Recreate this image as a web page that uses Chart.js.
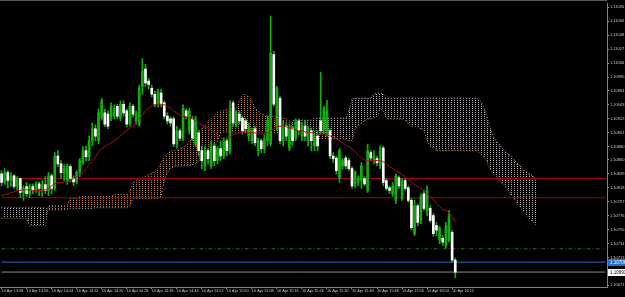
<!DOCTYPE html>
<html>
<head>
<meta charset="utf-8">
<script src="https://cdn.jsdelivr.net/npm/chart.js@4.4.1/dist/chart.umd.min.js"></script>
<style>
  html, body { margin: 0; padding: 0; background: #000; }
  #wrap { width: 625px; height: 297px; position: relative; }
</style>
</head>
<body>
<div id="wrap"><canvas id="grafico"></canvas></div>
<script>
// EURUSD M1, 10 Apr - candele, media mobile e nuvola Ichimoku
const dayLabel = '10 Apr';
const startMinute = 13 * 60 + 48;   // primo bar 13:48
const barCount = 194;               // bar visibili sull'asse (incluso lo spazio a destra)

const tickLabels = ['10 Apr 13:48', '10 Apr 13:56', '10 Apr 14:04', '10 Apr 14:12', '10 Apr 14:20',
  '10 Apr 14:28', '10 Apr 14:36', '10 Apr 14:44', '10 Apr 14:52', '10 Apr 15:00', '10 Apr 15:08',
  '10 Apr 15:16', '10 Apr 15:24', '10 Apr 15:32', '10 Apr 15:40', '10 Apr 15:48', '10 Apr 15:56',
  '10 Apr 16:04', '10 Apr 16:12'];

const priceTicks = [1.11090, 1.11069, 1.11048, 1.11027, 1.11006, 1.10985, 1.10964, 1.10943, 1.10922,
  1.10901, 1.10880, 1.10860, 1.10839, 1.10818, 1.10797, 1.10776, 1.10755, 1.10734, 1.10713, 1.10692, 1.10671];

const opens = [
  1.10839, 1.10826, 1.10841, 1.10829, 1.10836, 1.10820, 1.10832, 1.10811, 1.10820, 1.10809,
  1.10820, 1.10814, 1.10824, 1.10817, 1.10823, 1.10814, 1.10836, 1.10817, 1.10866, 1.10854,
  1.10841, 1.10829, 1.10850, 1.10832, 1.10827, 1.10841, 1.10856, 1.10874, 1.10865, 1.10889,
  1.10907, 1.10889, 1.10923, 1.10931, 1.10929, 1.10923, 1.10926, 1.10941, 1.10923, 1.10944,
  1.10934, 1.10914, 1.10941, 1.10919, 1.10914, 1.10971, 1.10997, 1.10979, 1.10968, 1.10959,
  1.10944, 1.10961, 1.10946, 1.10926, 1.10922, 1.10922, 1.10884, 1.10904, 1.10893, 1.10934,
  1.10904, 1.10922, 1.10884, 1.10901, 1.10874, 1.10851, 1.10874, 1.10851, 1.10881, 1.10859,
  1.10877, 1.10866, 1.10889, 1.10874, 1.10946, 1.10914, 1.10929, 1.10923, 1.10919, 1.10896,
  1.10889, 1.10907, 1.10874, 1.10889, 1.10877, 1.10889, 1.10884, 1.11019, 1.10908, 1.10953,
  1.10889, 1.10911, 1.10878, 1.10908, 1.10893, 1.10919, 1.10896, 1.10911, 1.10889, 1.10904,
  1.10881, 1.10896, 1.10919, 1.10904, 1.10904, 1.10904, 1.10866, 1.10863, 1.10832, 1.10851,
  1.10863, 1.10859, 1.10847, 1.10824, 1.10826, 1.10829, 1.10832, 1.10814, 1.10871, 1.10859,
  1.10862, 1.10851, 1.10878, 1.10829, 1.10818, 1.10809, 1.10799, 1.10833, 1.10802, 1.10829,
  1.10818, 1.10799, 1.10749, 1.10791, 1.10769, 1.10809, 1.10784, 1.10787, 1.10776, 1.10761,
  1.10739, 1.10742, 1.10731, 1.10739, 1.10751, 1.10709];

const highs = [
  1.10844, 1.10847, 1.10844, 1.10841, 1.10838, 1.10835, 1.10833, 1.10821, 1.10826, 1.10823,
  1.10824, 1.10827, 1.10827, 1.10829, 1.10835, 1.10841, 1.10839, 1.10871, 1.10874, 1.10859,
  1.10853, 1.10854, 1.10853, 1.10836, 1.10844, 1.10862, 1.10880, 1.10881, 1.10896, 1.10916,
  1.10913, 1.10937, 1.10953, 1.10937, 1.10934, 1.10946, 1.10943, 1.10944, 1.10949, 1.10949,
  1.10937, 1.10946, 1.10944, 1.10934, 1.10973, 1.11013, 1.11004, 1.10983, 1.10973, 1.10964,
  1.10967, 1.10967, 1.10949, 1.10931, 1.10925, 1.10925, 1.10911, 1.10907, 1.10943, 1.10937,
  1.10938, 1.10926, 1.10926, 1.10904, 1.10881, 1.10880, 1.10877, 1.10889, 1.10886, 1.10881,
  1.10889, 1.10893, 1.10893, 1.10949, 1.10949, 1.10934, 1.10934, 1.10926, 1.10923, 1.10916,
  1.10908, 1.10911, 1.10893, 1.10892, 1.10899, 1.10926, 1.11077, 1.11024, 1.10971, 1.10956,
  1.10919, 1.10916, 1.10913, 1.10911, 1.10922, 1.10922, 1.10916, 1.10919, 1.10911, 1.10908,
  1.10904, 1.10904, 1.10992, 1.10941, 1.10950, 1.10907, 1.10871, 1.10866, 1.10877, 1.10862,
  1.10866, 1.10863, 1.10850, 1.10844, 1.10836, 1.10856, 1.10835, 1.10884, 1.10874, 1.10874,
  1.10866, 1.10881, 1.10881, 1.10832, 1.10821, 1.10826, 1.10839, 1.10836, 1.10832, 1.10832,
  1.10821, 1.10802, 1.10799, 1.10794, 1.10809, 1.10814, 1.10821, 1.10791, 1.10779, 1.10766,
  1.10760, 1.10746, 1.10766, 1.10784, 1.10754, 1.10712];

const lows = [
  1.10821, 1.10823, 1.10818, 1.10820, 1.10817, 1.10815, 1.10803, 1.10799, 1.10805, 1.10803,
  1.10809, 1.10811, 1.10806, 1.10805, 1.10809, 1.10806, 1.10809, 1.10814, 1.10850, 1.10832,
  1.10829, 1.10823, 1.10827, 1.10821, 1.10824, 1.10835, 1.10853, 1.10859, 1.10859, 1.10881,
  1.10889, 1.10884, 1.10920, 1.10910, 1.10907, 1.10919, 1.10922, 1.10922, 1.10919, 1.10926,
  1.10910, 1.10911, 1.10925, 1.10914, 1.10911, 1.10959, 1.10971, 1.10967, 1.10955, 1.10940,
  1.10940, 1.10940, 1.10922, 1.10914, 1.10911, 1.10880, 1.10878, 1.10889, 1.10889, 1.10922,
  1.10899, 1.10889, 1.10880, 1.10866, 1.10847, 1.10844, 1.10854, 1.10847, 1.10851, 1.10854,
  1.10859, 1.10862, 1.10866, 1.10869, 1.10911, 1.10910, 1.10914, 1.10899, 1.10901, 1.10889,
  1.10884, 1.10881, 1.10866, 1.10871, 1.10871, 1.10881, 1.10881, 1.10941, 1.10904, 1.10884,
  1.10881, 1.10889, 1.10874, 1.10881, 1.10889, 1.10899, 1.10889, 1.10889, 1.10881, 1.10874,
  1.10874, 1.10874, 1.10899, 1.10899, 1.10896, 1.10862, 1.10856, 1.10839, 1.10826, 1.10847,
  1.10847, 1.10844, 1.10817, 1.10818, 1.10821, 1.10817, 1.10821, 1.10811, 1.10859, 1.10854,
  1.10851, 1.10847, 1.10821, 1.10814, 1.10809, 1.10805, 1.10794, 1.10817, 1.10799, 1.10814,
  1.10796, 1.10754, 1.10746, 1.10761, 1.10764, 1.10784, 1.10776, 1.10766, 1.10745, 1.10746,
  1.10734, 1.10731, 1.10727, 1.10736, 1.10706, 1.10682];

const closes = [
  1.10826, 1.10841, 1.10829, 1.10836, 1.10820, 1.10832, 1.10811, 1.10817, 1.10809, 1.10820,
  1.10814, 1.10824, 1.10817, 1.10823, 1.10814, 1.10836, 1.10817, 1.10866, 1.10854, 1.10841,
  1.10847, 1.10850, 1.10832, 1.10827, 1.10841, 1.10859, 1.10874, 1.10865, 1.10889, 1.10907,
  1.10896, 1.10931, 1.10949, 1.10914, 1.10911, 1.10941, 1.10938, 1.10926, 1.10944, 1.10931,
  1.10914, 1.10941, 1.10929, 1.10929, 1.10968, 1.10994, 1.10976, 1.10974, 1.10959, 1.10944,
  1.10964, 1.10944, 1.10926, 1.10919, 1.10916, 1.10884, 1.10904, 1.10893, 1.10938, 1.10926,
  1.10934, 1.10893, 1.10922, 1.10874, 1.10859, 1.10874, 1.10862, 1.10881, 1.10859, 1.10877,
  1.10866, 1.10889, 1.10874, 1.10934, 1.10916, 1.10929, 1.10919, 1.10904, 1.10907, 1.10911,
  1.10904, 1.10886, 1.10889, 1.10877, 1.10892, 1.10919, 1.11021, 1.10944, 1.10968, 1.10889,
  1.10911, 1.10896, 1.10908, 1.10889, 1.10919, 1.10904, 1.10911, 1.10896, 1.10904, 1.10889,
  1.10896, 1.10881, 1.10904, 1.10937, 1.10934, 1.10866, 1.10862, 1.10844, 1.10874, 1.10859,
  1.10851, 1.10847, 1.10821, 1.10841, 1.10832, 1.10851, 1.10824, 1.10874, 1.10863, 1.10866,
  1.10856, 1.10877, 1.10826, 1.10817, 1.10814, 1.10821, 1.10836, 1.10821, 1.10829, 1.10817,
  1.10799, 1.10758, 1.10791, 1.10766, 1.10806, 1.10787, 1.10814, 1.10769, 1.10749, 1.10754,
  1.10757, 1.10736, 1.10761, 1.10776, 1.10709, 1.10691];

// media mobile (linea rossa)
const movingAvg = [
  1.10806, 1.10808, 1.10809, 1.10811, 1.10812, 1.10814, 1.10814, 1.10815, 1.10815, 1.10815,
  1.10814, 1.10814, 1.10814, 1.10814, 1.10815, 1.10817, 1.10821, 1.10824, 1.10826, 1.10826,
  1.10827, 1.10827, 1.10829, 1.10832, 1.10835, 1.10838, 1.10841, 1.10847, 1.10853, 1.10859,
  1.10865, 1.10872, 1.10877, 1.10880, 1.10883, 1.10886, 1.10889, 1.10892, 1.10896, 1.10901,
  1.10905, 1.10908, 1.10911, 1.10916, 1.10922, 1.10928, 1.10934, 1.10938, 1.10941, 1.10943,
  1.10944, 1.10944, 1.10943, 1.10941, 1.10938, 1.10934, 1.10931, 1.10928, 1.10926, 1.10925,
  1.10923, 1.10922, 1.10919, 1.10916, 1.10913, 1.10910, 1.10908, 1.10905, 1.10902, 1.10898,
  1.10893, 1.10890, 1.10892, 1.10895, 1.10898, 1.10899, 1.10901, 1.10901, 1.10901, 1.10901,
  1.10901, 1.10901, 1.10899, 1.10899, 1.10899, 1.10901, 1.10904, 1.10907, 1.10910, 1.10911,
  1.10911, 1.10910, 1.10908, 1.10907, 1.10905, 1.10904, 1.10904, 1.10902, 1.10902, 1.10901,
  1.10901, 1.10899, 1.10899, 1.10898, 1.10898, 1.10896, 1.10895, 1.10892, 1.10889, 1.10886,
  1.10883, 1.10880, 1.10877, 1.10872, 1.10868, 1.10863, 1.10860, 1.10859, 1.10859, 1.10859,
  1.10859, 1.10859, 1.10857, 1.10854, 1.10850, 1.10847, 1.10844, 1.10841, 1.10838, 1.10835,
  1.10830, 1.10827, 1.10823, 1.10820, 1.10817, 1.10814, 1.10809, 1.10805, 1.10800, 1.10794,
  1.10790, 1.10785, 1.10784, 1.10781, 1.10775, 1.10766];

// Senkou Span A e B (spostate di 26 bar in avanti)
const spanA = [
  1.10772, 1.10772, 1.10772, 1.10772, 1.10772, 1.10772, 1.10772, 1.10772, 1.10772, 1.10761,
  1.10761, 1.10761, 1.10761, 1.10761, 1.10761, 1.10791, 1.10791, 1.10791, 1.10791, 1.10791,
  1.10791, 1.10791, 1.10803, 1.10803, 1.10803, 1.10805, 1.10805, 1.10805, 1.10805, 1.10805,
  1.10805, 1.10805, 1.10805, 1.10805, 1.10805, 1.10805, 1.10808, 1.10808, 1.10808, 1.10808,
  1.10808, 1.10814, 1.10826, 1.10829, 1.10832, 1.10833, 1.10835, 1.10838, 1.10841, 1.10842,
  1.10847, 1.10856, 1.10865, 1.10869, 1.10874, 1.10874, 1.10874, 1.10877, 1.10880, 1.10881,
  1.10889, 1.10892, 1.10896, 1.10904, 1.10907, 1.10911, 1.10919, 1.10922, 1.10926, 1.10932,
  1.10934, 1.10934, 1.10937, 1.10937, 1.10937, 1.10937, 1.10949, 1.10958, 1.10959, 1.10956,
  1.10949, 1.10938, 1.10934, 1.10929, 1.10928, 1.10926, 1.10926, 1.10925, 1.10925, 1.10923,
  1.10923, 1.10922, 1.10919, 1.10898, 1.10896, 1.10896, 1.10896, 1.10896, 1.10896, 1.10896,
  1.10892, 1.10892, 1.10892, 1.10892, 1.10892, 1.10892, 1.10892, 1.10892, 1.10892, 1.10892,
  1.10892, 1.10889, 1.10889, 1.10907, 1.10911, 1.10916, 1.10919, 1.10922, 1.10922, 1.10923,
  1.10926, 1.10937, 1.10934, 1.10923, 1.10922, 1.10922, 1.10922, 1.10922, 1.10922, 1.10919,
  1.10916, 1.10911, 1.10911, 1.10910, 1.10907, 1.10904, 1.10889, 1.10880, 1.10878, 1.10874,
  1.10874, 1.10874, 1.10874, 1.10874, 1.10874, 1.10874, 1.10874, 1.10874, 1.10874, 1.10874,
  1.10874, 1.10874, 1.10874, 1.10869, 1.10866, 1.10859, 1.10847, 1.10841, 1.10836, 1.10832,
  1.10824, 1.10820, 1.10814, 1.10806, 1.10800, 1.10793, 1.10787, 1.10781, 1.10776, 1.10770,
  1.10766, 1.10761];

const spanB = [
  1.10788, 1.10788, 1.10788, 1.10788, 1.10788, 1.10788, 1.10788, 1.10788, 1.10788, 1.10788,
  1.10788, 1.10788, 1.10788, 1.10788, 1.10788, 1.10785, 1.10785, 1.10785, 1.10785, 1.10785,
  1.10785, 1.10785, 1.10787, 1.10787, 1.10787, 1.10787, 1.10787, 1.10787, 1.10787, 1.10787,
  1.10788, 1.10788, 1.10788, 1.10788, 1.10788, 1.10788, 1.10788, 1.10788, 1.10788, 1.10788,
  1.10788, 1.10791, 1.10802, 1.10802, 1.10802, 1.10802, 1.10802, 1.10802, 1.10802, 1.10802,
  1.10802, 1.10805, 1.10829, 1.10841, 1.10847, 1.10850, 1.10851, 1.10851, 1.10851, 1.10851,
  1.10851, 1.10853, 1.10854, 1.10859, 1.10862, 1.10866, 1.10874, 1.10874, 1.10877, 1.10889,
  1.10901, 1.10902, 1.10902, 1.10902, 1.10902, 1.10902, 1.10902, 1.10902, 1.10902, 1.10902,
  1.10902, 1.10902, 1.10902, 1.10902, 1.10902, 1.10902, 1.10902, 1.10902, 1.10901, 1.10901,
  1.10899, 1.10899, 1.10899, 1.10919, 1.10920, 1.10920, 1.10920, 1.10920, 1.10920, 1.10920,
  1.10923, 1.10923, 1.10923, 1.10923, 1.10923, 1.10923, 1.10923, 1.10923, 1.10923, 1.10923,
  1.10923, 1.10934, 1.10952, 1.10953, 1.10953, 1.10953, 1.10953, 1.10953, 1.10953, 1.10959,
  1.10961, 1.10961, 1.10959, 1.10953, 1.10953, 1.10953, 1.10953, 1.10953, 1.10953, 1.10953,
  1.10953, 1.10953, 1.10953, 1.10953, 1.10953, 1.10953, 1.10953, 1.10953, 1.10953, 1.10953,
  1.10953, 1.10953, 1.10953, 1.10953, 1.10953, 1.10953, 1.10953, 1.10953, 1.10953, 1.10953,
  1.10953, 1.10953, 1.10953, 1.10949, 1.10941, 1.10926, 1.10911, 1.10896, 1.10889, 1.10884,
  1.10878, 1.10874, 1.10869, 1.10865, 1.10859, 1.10854, 1.10850, 1.10844, 1.10841, 1.10838,
  1.10835, 1.10832];

// livelli orizzontali
const redLevels = [1.10832, 1.10803];
const dashLevel = 1.10726;
const blueLevel = 1.10706;
const bidLevel = 1.10691;

// etichette dei bar
let labels = [];
for (let i = 0; i < barCount; i++) {
    let m = startMinute + i;
    let hh = Math.floor(m / 60);
    let mm = m % 60;
    labels.push(dayLabel + ' ' + hh + ':' + (mm < 10 ? '0' + mm : mm));
}

const green = '#13ad13';
const bodies = opens.map((o, i) => [o, closes[i]]);
const wicks = lows.map((l, i) => [l, highs[i]]);
const isBull = opens.map((o, i) => closes[i] >= o);

function dotPattern(color) {
    let c = document.createElement('canvas');
    c.width = 3; c.height = 2;
    let g = c.getContext('2d');
    g.fillStyle = color;
    g.fillRect(1, 0, 1, 1);
    return g.createPattern(c, 'repeat');
}
const sandyDots = dotPattern('#b87a50');
const thistleDots = dotPattern('#b0a4b0');

function levelLine(v, color, dash) {
    return {
        type: 'line',
        data: [{ x: labels[0], y: v }, { x: labels[barCount - 1], y: v }],
        borderColor: color, borderWidth: 1, borderDash: dash || [],
        pointRadius: 0, fill: false, order: 5
    };
}

// sfondo nero e cartellini di prezzo sull'asse
const mt4Plugin = {
    id: 'mt4',
    beforeDraw(chart) {
        let ctx = chart.ctx;
        ctx.save();
        ctx.fillStyle = '#000';
        ctx.fillRect(0, 0, chart.width, chart.height);
        ctx.fillStyle = '#5a5a5a';
        ctx.fillRect(0, 0, chart.chartArea.right, 1);
        ctx.restore();
    },
    afterDraw(chart) {
        let ctx = chart.ctx;
        let y = chart.scales.y;
        let x0 = chart.chartArea.right + 1;
        let tags = [
            { v: blueLevel, bg: '#1e6fd0', fg: '#ffffff' },
            { v: bidLevel, bg: '#ffffff', fg: '#000000' }
        ];
        ctx.save();
        ctx.font = '4.5px "Liberation Sans"';
        ctx.textBaseline = 'middle';
        tags.forEach(t => {
            let py = Math.round(y.getPixelForValue(t.v));
            ctx.fillStyle = t.bg;
            ctx.fillRect(x0, py - 3, chart.width - x0, 7);
            ctx.fillStyle = t.fg;
            ctx.fillText(t.v.toFixed(5), x0 + 2, py + 0.5);
        });
        ctx.restore();
    }
};

let ctx = document.getElementById('grafico');
new Chart(ctx, {
    data: {
        labels: labels,
        datasets: [
            {
                type: 'line', label: 'Senkou A', data: spanA,
                borderColor: '#b87a50', borderWidth: 1, borderDash: [1, 2],
                pointRadius: 0, fill: false, order: 10
            },
            {
                type: 'line', label: 'Senkou B', data: spanB,
                borderColor: '#b0a4b0', borderWidth: 1, borderDash: [1, 2],
                pointRadius: 0, order: 9,
                fill: { target: '-1', above: thistleDots, below: sandyDots }
            },
            Object.assign(levelLine(redLevels[0], '#b00000'), { label: 'R1' }),
            Object.assign(levelLine(redLevels[1], '#b00000'), { label: 'R2' }),
            Object.assign(levelLine(dashLevel, '#2c6a2c', [4, 2, 1, 2]), { label: 'L' }),
            Object.assign(levelLine(blueLevel, '#1e6fd0'), { label: 'Blu' }),
            Object.assign(levelLine(bidLevel, '#8a8a8a'), { label: 'Bid' }),
            {
                type: 'bar', label: 'Ombre', data: wicks,
                backgroundColor: green, barThickness: 1, grouped: false,
                borderWidth: 0, order: 3
            },
            {
                type: 'bar', label: 'Corpi', data: bodies,
                backgroundColor: isBull.map(b => b ? green : '#ffffff'),
                borderWidth: 0,
                borderSkipped: false, barThickness: 2, grouped: false,
                minBarLength: 1, order: 2
            },
            {
                type: 'line', label: 'MA', data: movingAvg,
                borderColor: '#a81010', borderWidth: 1,
                pointRadius: 0, fill: false, order: 1
            }
        ]
    },
    options: {
        responsive: true,
        maintainAspectRatio: false,
        devicePixelRatio: 1,
        animation: false,
        layout: { padding: { top: 2, left: 0, right: 0, bottom: 0 } },
        plugins: {
            legend: { display: false },
            tooltip: { enabled: false }
        },
        scales: {
            x: {
                type: 'category',
                offset: true,
                afterFit: s => { s.height = 10; },
                border: { display: true, color: '#808080', width: 1 },
                grid: {
                    display: true, drawOnChartArea: false, offset: false, tickLength: 2,
                    color: c => (c.tick && tickLabels.includes(labels[c.index])) ? '#909090' : 'rgba(0,0,0,0)'
                },
                ticks: {
                    autoSkip: false, maxRotation: 0, minRotation: 0, align: 'start', padding: 0,
                    color: '#c8c8c8', font: { size: 3.8, family: 'Liberation Sans' },
                    callback: function (value, index) {
                        let l = labels[index];
                        return tickLabels.includes(l) ? l : '';
                    }
                }
            },
            y: {
                position: 'right',
                min: 1.106685,
                max: 1.11096,
                afterFit: s => { s.width = 18; },
                afterBuildTicks: s => { s.ticks = priceTicks.map(v => ({ value: v })); },
                border: { display: true, color: '#808080', width: 1 },
                grid: { display: true, drawOnChartArea: false, tickLength: 2, color: '#909090' },
                ticks: {
                    padding: 1, color: '#c8c8c8', font: { size: 4, family: 'Liberation Sans' },
                    callback: v => v.toFixed(5)
                }
            }
        }
    },
    plugins: [mt4Plugin]
});
</script>
</body>
</html>
